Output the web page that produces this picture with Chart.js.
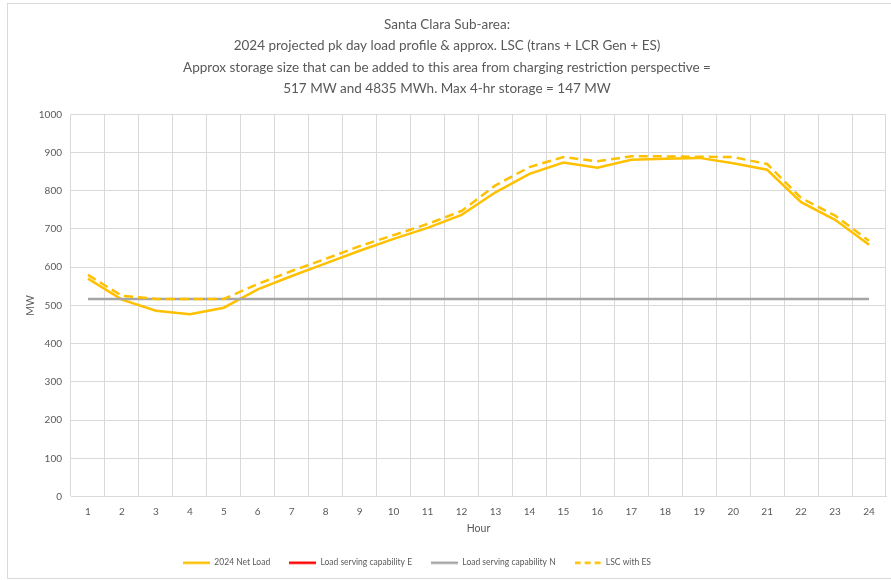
<!DOCTYPE html>
<html><head><meta charset="utf-8">
<script src="https://cdn.jsdelivr.net/npm/chart.js@4"></script>
<style>html,body{margin:0;padding:0;background:#fff}#wrap{width:891px;height:580px;position:relative}</style>
</head><body><div id="wrap"><canvas id="c" width="891" height="580"></canvas></div>
<script>
const hours = ['1','2','3','4','5','6','7','8','9','10','11','12','13','14','15','16','17','18','19','20','21','22','23','24'];
const netLoad = [570,515,486,477,494,542,577,610,643,674,703,737,796,844,874,860,881,884,886,872,855,770,724,659];
const lscE = [null,null,null,null,null,null,null,null,null,null,null,null,null,null,null,null,null,null,null,null,null,null,null,null];
const lscN = [517,517,517,517,517,517,517,517,517,517,517,517,517,517,517,517,517,517,517,517,517,517,517,517];
const lscES = [580,525,517,517,517,556,590,622,655,684,713,747,814,862,888,877,890,890,889,888,870,781,735,669];
const yTicks = [0,100,200,300,400,500,600,700,800,900,1000];
const titleLines = ['Santa Clara Sub-area:','2024 projected pk day load profile & approx. LSC (trans + LCR Gen + ES)','Approx storage size that can be added to this area from charging restriction perspective =','517 MW and 4835 MWh. Max 4-hr storage = 147 MW'];

const FONT = 'Lato';
const TXT = '#595959';
const GRID = '#D9D9D9';

function makeSample(color, dash) {
  const c = document.createElement('canvas');
  c.width = 27; c.height = 4;
  const g = c.getContext('2d');
  g.strokeStyle = color;
  g.lineWidth = 2.5;
  g.setLineDash(dash);
  g.beginPath();
  g.moveTo(0, 2); g.lineTo(27, 2);
  g.stroke();
  return c;
}

const framePlugin = {
  id: 'frame',
  beforeDraw(chart) {
    const ctx = chart.ctx;
    ctx.save();
    ctx.fillStyle = '#fff';
    ctx.fillRect(0,0,chart.width,chart.height);
    ctx.strokeStyle = GRID;
    ctx.lineWidth = 1;
    ctx.strokeRect(7.5, 3.5, 900, 575);
    ctx.restore();
  }
};

const legendShift = {
  id: 'legendShift',
  afterLayout(chart) {
    if (chart.legend) {
      chart.legend.left -= 30;
      chart.legend.right -= 30;
    }
  }
};

new Chart(document.getElementById('c'), {
  type: 'line',
  data: {
    labels: hours,
    datasets: [
      {label:'2024 Net Load', data: netLoad, borderColor:'#FFC000', backgroundColor:'#FFC000', borderWidth:2.5, pointRadius:0, tension:0, order:4},
      {label:'Load serving capability E', data: lscE, borderColor:'#FF0000', backgroundColor:'#FF0000', borderWidth:2.5, pointRadius:0, tension:0, order:3},
      {label:'Load serving capability N', data: lscN, borderColor:'#A5A5A5', backgroundColor:'#A5A5A5', borderWidth:2.5, pointRadius:0, tension:0, order:2},
      {label:'LSC with ES', data: lscES, borderColor:'#FFC000', backgroundColor:'#FFC000', borderWidth:2.5, borderDash:[9,5], pointRadius:0, tension:0, order:1}
    ]
  },
  plugins: [framePlugin, legendShift],
  options: {
    responsive: false,
    animation: false,
    devicePixelRatio: 1,
    layout: {padding: {left: 8, right: 5, top: 0, bottom: 3}},
    plugins: {
      tooltip: {enabled: false},
      title: {
        display: true,
        text: titleLines,
        color: TXT,
        font: {family: FONT, size: 13.5, weight: 'normal', lineHeight: 1.58},
        padding: {top: 14, bottom: 15}
      },
      legend: {
        position: 'bottom',
        labels: {
          color: TXT,
          font: {family: FONT, size: 8.5},
          usePointStyle: true,
          pointStyle: 'line',
          pointStyleWidth: 27,
          boxWidth: 27,
          boxHeight: 10,
          padding: 19,
          sort: (a, b) => a.datasetIndex - b.datasetIndex,
          generateLabels(chart) {
            const items = Chart.defaults.plugins.legend.labels.generateLabels(chart);
            items.forEach(it => {
              const ds = chart.data.datasets[it.datasetIndex];
              const dash = (ds.borderDash && ds.borderDash.length) ? [6, 4] : [];
              it.pointStyle = makeSample(ds.borderColor, dash);
            });
            return items;
          }
        }
      }
    },
    scales: {
      x: {
        type: 'category',
        offset: true,
        grid: {display: true, offset: true, color: GRID, lineWidth: 1, drawTicks: false},
        border: {display: true, color: GRID},
        ticks: {color: TXT, font: {family: FONT, size: 10}, padding: 9, maxRotation: 0, autoSkip: false},
        title: {display: true, text: 'Hour', color: TXT, font: {family: FONT, size: 10.5}, padding: {top: 4, bottom: 5}},
        afterFit(s) { s.height = 43; }
      },
      y: {
        type: 'linear',
        min: 0, max: 1000,
        afterBuildTicks(s) { s.ticks = yTicks.map(v => ({value: v})); },
        grid: {color: GRID, lineWidth: 1, drawTicks: false},
        border: {display: false},
        ticks: {color: TXT, font: {family: FONT, size: 10}, padding: 9, callback: v => String(v)},
        title: {display: true, text: 'MW', color: TXT, font: {family: FONT, size: 10.5}, padding: {top: 16, bottom: 0}},
        afterFit(s) { s.width = 63; }
      }
    }
  }
});
</script></body></html>
